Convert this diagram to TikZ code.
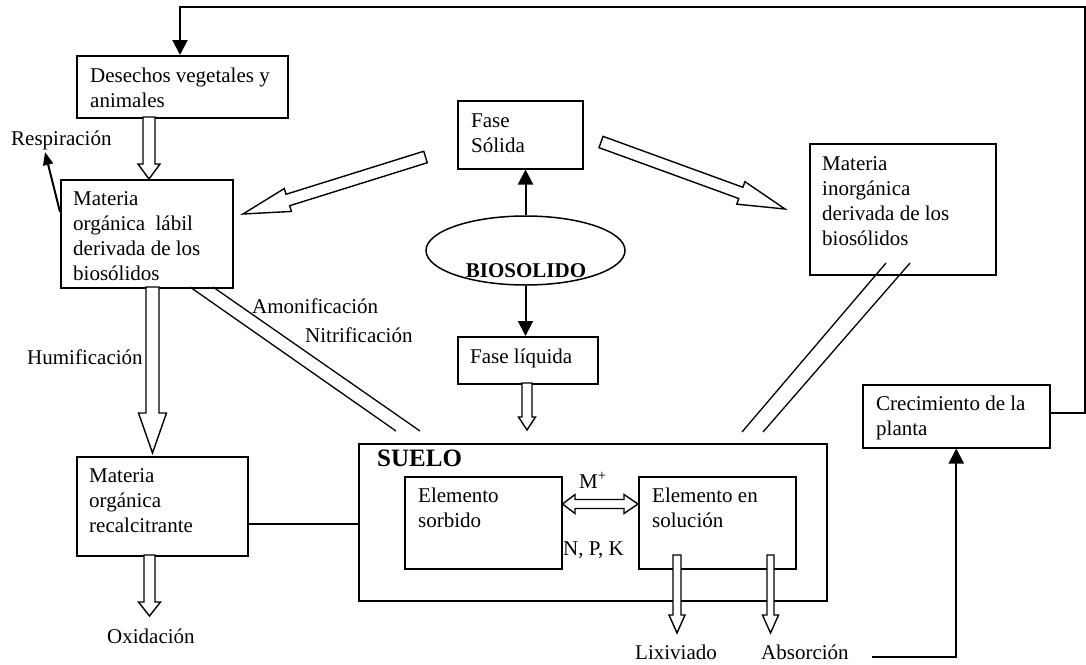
\documentclass[tikz,border=0pt]{standalone}
\usepackage{fontspec}
\setmainfont{Liberation Serif}
\usetikzlibrary{arrows.meta,calc,shapes.geometric}
\tikzset{
  box/.style={draw, line width=1.5pt, inner sep=0pt, anchor=north west},
  txt/.style={inner sep=0pt, anchor=north west, align=left, font=\fontsize{21}{25}\selectfont},
  lbl/.style={inner sep=0pt, anchor=base west, font=\fontsize{21}{25}\selectfont},
  hollow/.style={draw, fill=white, line width=1.4pt, line join=miter},
  conn/.style={line width=1.3pt},
  feed/.style={line width=2pt},
  tipA/.style={-{Triangle[length=15pt,width=15pt]}},
  tipB/.style={-{Triangle[length=13pt,width=10pt]}},
}
\newcommand{\harrow}[5]{%
  \path ($(#2)!#5!(#1)$) coordinate (hn);
  \draw[hollow] ($(#1)!#3!90:(#2)$) -- ($(hn)!#3!90:(#2)$) -- ($(hn)!#4!90:(#2)$) -- (#2)
     -- ($(hn)!#4!-90:(#2)$) -- ($(hn)!#3!-90:(#2)$) -- ($(#1)!#3!-90:(#2)$) -- cycle;}
\begin{document}
\begin{tikzpicture}[x=1pt,y=-1pt]
\useasboundingbox (0,0) rectangle (1086,664);

% boxes
\node[box, minimum width=211pt, minimum height=62pt] (des) at (76,55) {};
\node[box, minimum width=172pt, minimum height=108pt] (lab) at (60,179) {};
\node[box, minimum width=125pt, minimum height=68pt] (fs) at (457,100) {};
\node[box, minimum width=186pt, minimum height=131pt] (inorg) at (809,143) {};
\node[box, minimum width=140pt, minimum height=47pt] (fl) at (457,336) {};
\node[box, minimum width=171pt, minimum height=99pt] (rec) at (76,456) {};
\node[box, minimum width=468pt, minimum height=157pt] (suelo) at (358,443) {};
\node[box, minimum width=157pt, minimum height=92pt] (sorb) at (404,476) {};
\node[box, minimum width=157pt, minimum height=92pt] (sol) at (638,476) {};
\node[box, minimum width=187pt, minimum height=63pt] (crec) at (862,384) {};
\node[draw, ellipse, line width=1.5pt, minimum width=199pt, minimum height=69pt, inner sep=0pt] (bio) at (525.5,250.5) {};

% box texts
\node[txt] (desT) at (90,64.5) {\strut Desechos vegetales y\\animales};
\node[txt] (labT) at (73,187.5) {\strut Materia\\org\'anica\ \ l\'abil\\derivada de los\\bios\'olidos};
\node[txt] (fsT) at (471,109.5) {\strut Fase\\S\'olida};
\node[txt] (inT) at (822,152.5) {\strut Materia\\inorg\'anica\\derivada de los\\bios\'olidos};
\node[txt] (flT) at (470,345.5) {\strut Fase l\'iquida};
\node[txt] (recT) at (89,464.5) {\strut Materia\\org\'anica\\recalcitrante};
\node[txt] (sorbT) at (418,484.5) {\strut Elemento\\sorbido};
\node[txt] (solT) at (652,484.5) {\strut Elemento en\\soluci\'on};
\node[txt] (crecT) at (876,392.5) {\strut Crecimiento de la\\planta};
\node[lbl, font=\fontsize{25}{28}\selectfont\bfseries] (sueloT) at (377,466) {SUELO};
\node[lbl, anchor=base, font=\fontsize{21}{25}\selectfont\bfseries] (bioT) at (526,277) {BIOSOLIDO};

% labels
\node[lbl] (mplus) at (579,488) {M\textsuperscript{+}};
\node[lbl] (npk) at (563,555) {N, P, K};
\node[lbl] (resp) at (11,145) {Respiraci\'on};
\node[lbl] (humi) at (27,364) {Humificaci\'on};
\node[lbl] (amon) at (252,313) {Amonificaci\'on};
\node[lbl] (nitr) at (305,342) {Nitrificaci\'on};
\node[lbl] (oxid) at (107,643) {Oxidaci\'on};
\node[lbl] (lixi) at (635,659) {Lixiviado};
\node[lbl] (abso) at (761,659) {Absorci\'on};

% feedback loop
\coordinate (fbR) at (1085,7);
\coordinate (fbL) at (180,7);
\draw[feed, tipA] (crec.east |- 0,413) -| (fbR) -- (fbL) -- (fbL |- des.north);
\coordinate (ab) at (872,657);
\draw[feed, tipA] (ab) -| (crec.south);

% biosolido arrows
\draw[feed, tipA] (bio.north) -- (bio.north |- fs.south);
\draw[feed, tipA] (bio.south) -- (bio.south |- fl.north);

% respiracion
\coordinate (r1) at (60,212);
\coordinate (r2) at (45,152);
\draw[feed, tipB] (r1) -- (r2);

% hollow arrows
\coordinate (a1s) at (149,117);   \coordinate (a1e) at (149,179);
\coordinate (a2s) at (152.5,287); \coordinate (a2e) at (152.5,453);
\coordinate (a3s) at (149.5,555); \coordinate (a3e) at (149.5,616);
\coordinate (a4s) at (527,383);   \coordinate (a4e) at (527,430);
\coordinate (a5s) at (677,555);   \coordinate (a5e) at (677,633);
\coordinate (a6s) at (770.5,555); \coordinate (a6e) at (770.5,633);
\coordinate (a7s) at (425.5,157); \coordinate (a7e) at (243,214);
\coordinate (a8s) at (601,142);   \coordinate (a8e) at (785,209);
\harrow{a1s}{a1e}{6pt}{11pt}{15pt}
\harrow{a2s}{a2e}{6.5pt}{14pt}{40pt}
\harrow{a3s}{a3e}{5.5pt}{11pt}{14pt}
\harrow{a4s}{a4e}{5pt}{8.5pt}{13pt}
\harrow{a5s}{a5e}{4pt}{8pt}{18pt}
\harrow{a6s}{a6e}{3.5pt}{8pt}{18pt}
\harrow{a7s}{a7e}{6pt}{12pt}{47pt}
\harrow{a8s}{a8e}{6pt}{12pt}{47pt}

% double-headed arrow between sorbido and solucion
\draw[hollow] (sorb.east |- 0,504) -- (575,494.5) -- (575,499.5) -- (624,499.5) -- (624,494.5)
  -- (sol.west |- 0,504) -- (624,513.5) -- (624,508.5) -- (575,508.5) -- (575,513.5) -- cycle;

% double lines
\draw[conn] (190,287) -- (396,431);
\draw[conn] (213,287) -- (420,431);
\draw[conn] (886,263) -- (742,432);
\draw[conn] (910,263) -- (763,432);
\draw[conn] (rec.east |- 0,524) -- (suelo.west |- 0,524);
\end{tikzpicture}
\end{document}
